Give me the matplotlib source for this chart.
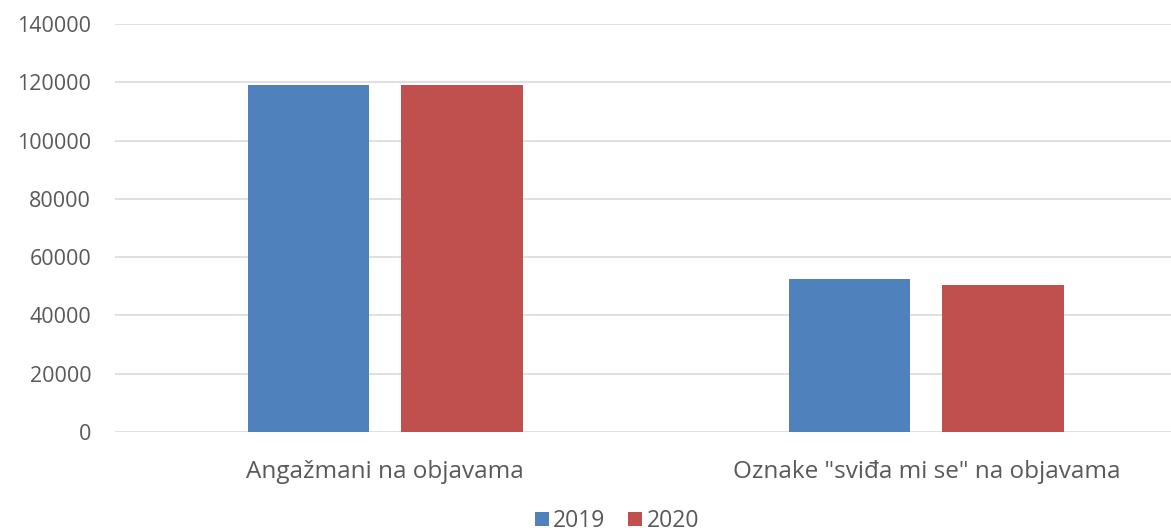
import numpy as np
import matplotlib.pyplot as plt

plt.rcParams['font.family'] = ['Open Sans', 'DejaVu Sans']

categories = ['Angažmani na objavama', 'Oznake "sviđa mi se" na objavama']
years = ['2019', '2020']
values_2019 = [119000, 52500]
values_2020 = [119000, 50500]
yticks = [0, 20000, 40000, 60000, 80000, 100000, 120000, 140000]

text_col = '#595959'
fig = plt.figure(figsize=(11.71, 5.31), dpi=100)
# plot area runs past the right edge of the figure
ax = fig.add_axes([0.098, 0.1864, 0.924, 0.7684])

x = np.arange(len(categories))
w = 0.224
off = 0.142
ax.bar(x - off, values_2019, w, color='#4F81BD', label=years[0], zorder=3)
ax.bar(x + off, values_2020, w, color='#C0504D', label=years[1], zorder=3)

ax.set_xlim(-0.5, 1.5)
ax.set_ylim(0, 140000)
ax.set_yticks(yticks)
ax.set_yticklabels([str(v) for v in yticks])
ax.set_xticks(x)
ax.set_xticklabels(categories)
ax.yaxis.grid(True, color='#DDDDDD', linewidth=1.3, zorder=0)
ax.tick_params(length=0, colors=text_col)
ax.tick_params(axis='y', pad=17, labelsize=15.5)
ax.tick_params(axis='x', pad=20, labelsize=17.5)
for s in ax.spines.values():
    s.set_visible(False)

fig.legend(loc='center', bbox_to_anchor=(617 / 1171, 1 - 521 / 531), ncol=2,
           frameon=False, fontsize=16.5, labelcolor=text_col,
           handlelength=0.6, handleheight=0.6, handletextpad=0.2,
           columnspacing=1.0)

fig.savefig('out.png', dpi=100)
